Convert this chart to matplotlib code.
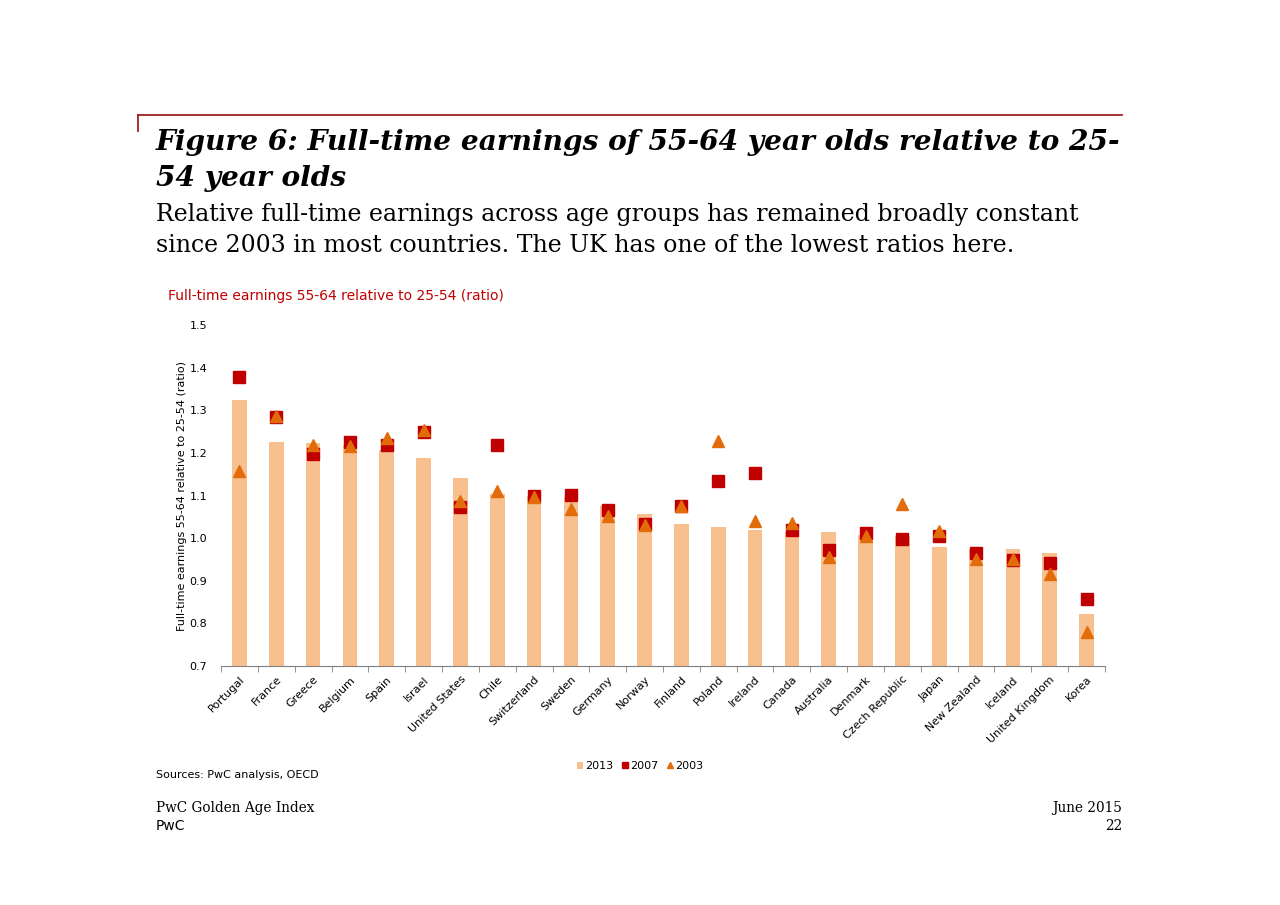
import numpy as np
import matplotlib.pyplot as plt

countries = ['Portugal', 'France', 'Greece', 'Belgium', 'Spain', 'Israel', 'United States',
             'Chile', 'Switzerland', 'Sweden', 'Germany', 'Norway', 'Finland', 'Poland',
             'Ireland', 'Canada', 'Australia', 'Denmark', 'Czech Republic', 'Japan',
             'New Zealand', 'Iceland', 'United Kingdom', 'Korea']
v2013 = [1.325, 1.225, 1.223, 1.219, 1.207, 1.188, 1.142, 1.104, 1.098, 1.097, 1.075, 1.056,
         1.034, 1.026, 1.020, 1.014, 1.014, 1.008, 1.006, 0.979, 0.975, 0.975, 0.965, 0.822]
v2007 = [1.377, 1.285, 1.198, 1.225, 1.218, 1.249, 1.073, 1.218, 1.098, 1.100, 1.065, 1.034,
         1.075, 1.133, 1.153, 1.020, 0.972, 1.012, 0.999, 1.006, 0.965, 0.948, 0.942, 0.858]
v2003 = [1.158, 1.287, 1.219, 1.217, 1.235, 1.253, 1.086, 1.111, 1.096, 1.068, 1.053, 1.030,
         1.075, 1.227, 1.040, 1.036, 0.956, 1.006, 1.080, 1.016, 0.950, 0.950, 0.916, 0.780]
yticks = [0.7, 0.8, 0.9, 1.0, 1.1, 1.2, 1.3, 1.4, 1.5]

BAR = '#f9c08f'
SQ = '#c00000'
TRI = '#e36c0a'
DARKRED = '#a32020'

fig = plt.figure(figsize=(12.8, 9.05), dpi=100)

# top rule with small left hook
fig.add_artist(plt.Line2D([138/1280, 1122/1280], [1-115/905, 1-115/905], color=DARKRED, lw=1.3))
fig.add_artist(plt.Line2D([138/1280, 138/1280], [1-115/905, 1-131/905], color=DARKRED, lw=1.3))

fig.text(156/1280, 1-143/905, 'Figure 6: Full-time earnings of 55-64 year olds relative to 25-',
         fontsize=20.2, family='DejaVu Serif', weight='bold', style='italic', va='center')
fig.text(156/1280, 1-179/905, '54 year olds',
         fontsize=20.2, family='DejaVu Serif', weight='bold', style='italic', va='center')
fig.text(156/1280, 1-214/905, 'Relative full-time earnings across age groups has remained broadly constant',
         fontsize=17, family='DejaVu Serif', va='center')
fig.text(156/1280, 1-246/905, 'since 2003 in most countries. The UK has one of the lowest ratios here.',
         fontsize=17, family='DejaVu Serif', va='center')
fig.text(168/1280, 1-296/905, 'Full-time earnings 55-64 relative to 25-54 (ratio)',
         fontsize=10, color=SQ, va='center')

ax = fig.add_axes([221/1280, 1-666/905, (1105-221)/1280, (666-325)/905])
x = np.arange(len(countries))
b = ax.bar(x, np.array(v2013) - 0.7, bottom=0.7, width=0.4, color=BAR, label='2013', zorder=1)
s, = ax.plot(x, v2007, 's', color=SQ, markersize=8.5, label='2007', zorder=2)
t, = ax.plot(x, v2003, '^', color=TRI, markersize=8, label='2003', zorder=3)

ax.set_xlim(-0.5, len(countries) - 0.5)
ax.set_ylim(0.7, 1.5)
ax.set_yticks(yticks)
ax.set_yticklabels(['%.1f' % v for v in yticks], fontsize=8)
ax.set_xticks(x)
ax.set_xticklabels(countries, rotation=45, ha='right', rotation_mode='anchor', fontsize=8)
ax.set_xticks(np.arange(-0.5, len(countries)), minor=True)
ax.tick_params(axis='x', which='major', length=0, pad=6)
ax.tick_params(axis='x', which='minor', length=4, color='#808080')
ax.tick_params(axis='y', length=0, pad=10)
for sp in ['top', 'right', 'left']:
    ax.spines[sp].set_visible(False)
ax.spines['bottom'].set_color('#808080')
ax.set_ylabel('Full-time earnings 55-64 relative to 25-54 (ratio)', fontsize=8, labelpad=2)

ax.legend([b, s, t], ['2013', '2007', '2003'], loc='center',
          bbox_to_anchor=(640/1280, 1-766/905), bbox_transform=fig.transFigure,
          ncol=3, frameon=False, fontsize=8, handlelength=0.5, handleheight=0.6,
          handletextpad=0.2, columnspacing=0.8, markerscale=0.5)

fig.text(156/1280, 1-775/905, 'Sources: PwC analysis, OECD', fontsize=8, va='center')
fig.text(156/1280, 1-808/905, 'PwC Golden Age Index', fontsize=9.8, family='DejaVu Serif', va='center')
fig.text(156/1280, 1-826/905, 'PwC', fontsize=10, va='center')
fig.text(1122/1280, 1-808/905, 'June 2015', fontsize=9.8, family='DejaVu Serif', va='center', ha='right')
fig.text(1122/1280, 1-826/905, '22', fontsize=9.8, family='DejaVu Serif', va='center', ha='right')

fig.savefig('out.png', dpi=100)
